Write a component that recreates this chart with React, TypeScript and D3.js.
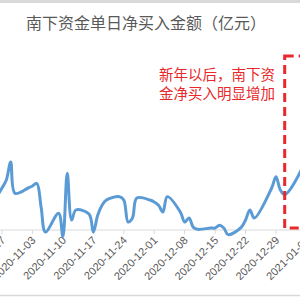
import React, { useRef, useEffect } from 'react';
import * as d3 from 'd3';

// trading days (2020-10-26 .. 2021-01-06)
const dates: string[] = [
  '2020-10-26', '2020-10-27', '2020-10-28', '2020-10-29', '2020-10-30',
  '2020-11-02', '2020-11-03', '2020-11-04', '2020-11-05', '2020-11-06',
  '2020-11-09', '2020-11-10', '2020-11-11', '2020-11-12', '2020-11-13',
  '2020-11-16', '2020-11-17', '2020-11-18', '2020-11-19', '2020-11-20',
  '2020-11-23', '2020-11-24', '2020-11-25', '2020-11-26', '2020-11-27',
  '2020-11-30', '2020-12-01', '2020-12-02', '2020-12-03', '2020-12-04',
  '2020-12-07', '2020-12-08', '2020-12-09', '2020-12-10', '2020-12-11',
  '2020-12-14', '2020-12-15', '2020-12-16', '2020-12-17', '2020-12-18',
  '2020-12-21', '2020-12-22', '2020-12-23', '2020-12-24',
  '2020-12-28', '2020-12-29', '2020-12-30', '2020-12-31',
  '2021-01-04', '2021-01-05', '2021-01-06',
];

// 南下资金单日净买入（亿元）
const netBuy: number[] = [
  52, 63, 75, 102, 55,
  63, 66, 70, 34, -3,
  25, -10, 85, 15, 30,
  24, -3, 22, 37, 45,
  50, 45, 12, 18, 48,
  45, 42, 37, 27, 50,
  27, 12, 18, 4, 1,
  3, 3, 7, 3, -7,
  4, 15, 30, 18,
  63, 80, 60, 53,
  93, 118, 140,
];

const title = '南下资金单日净买入金额（亿元）';
const noteLines = ['新年以后，南下资', '金净买入明显增加'];

const W = 300;
const H = 300;

export default function App() {
  const svgRef = useRef<SVGSVGElement>(null);

  useEffect(() => {
    const svg = d3.select(svgRef.current);
    svg.selectAll('*').remove();

    const parse = d3.timeParse('%Y-%m-%d');
    const data = dates.map((d, i) => ({ date: parse(d) as Date, v: netBuy[i] }));

    const x = d3.scaleTime()
      .domain([parse('2020-10-27') as Date, parse('2020-12-29') as Date])
      .range([2, 276]);
    const y = d3.scaleLinear().domain([0, 150]).range([230, 130]);

    // chart frame (cropped)
    svg.append('line').attr('x1', 0).attr('x2', W).attr('y1', 1.5).attr('y2', 1.5)
      .attr('stroke', '#d9d9d9').attr('stroke-width', 3);
    svg.append('line').attr('x1', 0).attr('x2', W).attr('y1', 295.5).attr('y2', 295.5)
      .attr('stroke', '#d9d9d9').attr('stroke-width', 1.5);

    svg.append('text')
      .attr('x', 146).attr('y', 29)
      .attr('text-anchor', 'middle')
      .attr('font-family', '"Noto Sans CJK SC", sans-serif')
      .attr('font-size', 16)
      .attr('fill', '#595959')
      .text(title);

    // x axis
    const y0 = y(0);
    svg.append('line').attr('x1', 0).attr('x2', W).attr('y1', y0).attr('y2', y0)
      .attr('stroke', '#d9d9d9').attr('stroke-width', 1);

    const ticks = d3.timeTuesday.range(parse('2020-10-20') as Date, parse('2021-01-10') as Date);
    const fmt = d3.timeFormat('%Y-%m-%d');
    const tg = svg.append('g');
    ticks.forEach(t => {
      const tx = x(t);
      tg.append('line').attr('x1', tx).attr('x2', tx).attr('y1', y0).attr('y2', y0 + 4)
        .attr('stroke', '#d9d9d9');
      tg.append('text')
        .attr('transform', `translate(${tx + 4},${y0 + 11}) rotate(-45)`)
        .attr('text-anchor', 'end')
        .attr('font-family', '"Liberation Sans", Arial, sans-serif')
        .attr('font-size', 11)
        .attr('fill', '#595959')
        .text(fmt(t));
    });

    // line
    const line = d3.line<{ date: Date; v: number }>()
      .x(d => x(d.date))
      .y(d => y(d.v))
      .curve(d3.curveCatmullRom.alpha(0.5));
    svg.append('path')
      .datum(data)
      .attr('d', line)
      .attr('fill', 'none')
      .attr('stroke', '#5b9bd5')
      .attr('stroke-width', 3)
      .attr('stroke-linejoin', 'round')
      .attr('stroke-linecap', 'round');

    // red dashed box
    const bx = x(parse('2020-12-31') as Date);
    svg.append('rect')
      .attr('x', bx).attr('y', 56)
      .attr('width', 40).attr('height', y0 - 2 - 56)
      .attr('fill', 'none')
      .attr('stroke', '#e8282b')
      .attr('stroke-width', 3)
      .attr('stroke-dasharray', '9,5');

    noteLines.forEach((s, i) => {
      svg.append('text')
        .attr('x', 275).attr('y', 80 + i * 18.5)
        .attr('text-anchor', 'end')
        .attr('font-family', '"Noto Sans CJK SC", sans-serif')
        .attr('font-size', 14.5)
        .attr('fill', '#e8282b')
        .text(s);
    });
  }, []);

  return (
    <div style={{ position: 'absolute', left: 0, top: 0, width: W, height: H, background: '#fff' }}>
      <svg ref={svgRef} width={W} height={H} style={{ display: 'block', overflow: 'hidden' }} />
    </div>
  );
}
